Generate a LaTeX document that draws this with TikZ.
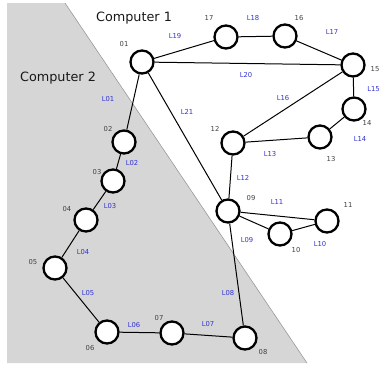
\documentclass[tikz,border=0pt]{standalone}
\usepackage{fontspec}
\setmainfont{DejaVu Sans}
\begin{document}
\begin{tikzpicture}[x=1pt,y=-1pt,
  vtx/.style={circle,draw=black,line width=2.3pt,fill=white,minimum size=23pt,inner sep=0pt},
  link/.style={draw=black,line width=1pt},
  nlab/.style={font=\fontsize{6.8}{7}\selectfont,text=black!75},
  elab/.style={font=\fontsize{6.8}{7}\selectfont,text={rgb,255:red,50;green,50;blue,210}},
  title/.style={font=\fontsize{12.8}{14}\selectfont,text=black!90}]
\useasboundingbox (0,0) rectangle (382,365);
% shaded region of the second computer
\fill[black!16] (7,3) -- (65,3) -- (307,363) -- (7,363) -- cycle;
\draw[black!40,line width=0.6pt] (65,3) -- (307,363);

\node[title] (c1) at (134,18) {Computer 1};
\node[title] (c2) at (58,78) {Computer 2};

% vertices
\node[vtx] (n01) at (142,62) {};
\node[vtx] (n02) at (124,142) {};
\node[vtx] (n03) at (113,181) {};
\node[vtx] (n04) at (86,220) {};
\node[vtx] (n05) at (55,268) {};
\node[vtx] (n06) at (107,332) {};
\node[vtx] (n07) at (172,333) {};
\node[vtx] (n08) at (245,338) {};
\node[vtx] (n09) at (228,211) {};
\node[vtx] (n10) at (280,234) {};
\node[vtx] (n11) at (327,221) {};
\node[vtx] (n12) at (233,143) {};
\node[vtx] (n13) at (320,137) {};
\node[vtx] (n14) at (354,109) {};
\node[vtx] (n15) at (353,65) {};
\node[vtx] (n16) at (285,36) {};
\node[vtx] (n17) at (226,37) {};

% links
\draw[link] (n01) -- (n02);
\draw[link] (n02) -- (n03);
\draw[link] (n03) -- (n04);
\draw[link] (n04) -- (n05);
\draw[link] (n05) -- (n06);
\draw[link] (n06) -- (n07);
\draw[link] (n07) -- (n08);
\draw[link] (n08) -- (n09);
\draw[link] (n09) -- (n10);
\draw[link] (n10) -- (n11);
\draw[link] (n09) -- (n11);
\draw[link] (n12) -- (n09);
\draw[link] (n12) -- (n13);
\draw[link] (n13) -- (n14);
\draw[link] (n14) -- (n15);
\draw[link] (n12) -- (n15);
\draw[link] (n16) -- (n15);
\draw[link] (n17) -- (n16);
\draw[link] (n01) -- (n17);
\draw[link] (n01) -- (n15);
\draw[link] (n01) -- (n09);

% vertex labels
\node[nlab] (t01) at (124,44) {01};
\node[nlab] (t02) at (108,129) {02};
\node[nlab] (t03) at (97,172) {03};
\node[nlab] (t04) at (67,209) {04};
\node[nlab] (t05) at (33,262) {05};
\node[nlab] (t06) at (90,348) {06};
\node[nlab] (t07) at (159,318) {07};
\node[nlab] (t08) at (263,352) {08};
\node[nlab] (t09) at (251,198) {09};
\node[nlab] (t10) at (296,250) {10};
\node[nlab] (t11) at (348,205) {11};
\node[nlab] (t12) at (215,129) {12};
\node[nlab] (t13) at (331,159) {13};
\node[nlab] (t14) at (367,123) {14};
\node[nlab] (t15) at (375,69) {15};
\node[nlab] (t16) at (299,18) {16};
\node[nlab] (t17) at (209,18) {17};

% link labels
\node[elab] (l01) at (108,99) {L01};
\node[elab] (l02) at (132,163) {L02};
\node[elab] (l03) at (110,206) {L03};
\node[elab] (l04) at (83,252) {L04};
\node[elab] (l05) at (88,293) {L05};
\node[elab] (l06) at (134,325) {L06};
\node[elab] (l07) at (208,324) {L07};
\node[elab] (l08) at (228,293) {L08};
\node[elab] (l09) at (247,240) {L09};
\node[elab] (l10) at (320,244) {L10};
\node[elab] (l11) at (277,202) {L11};
\node[elab] (l12) at (243,178) {L12};
\node[elab] (l13) at (270,154) {L13};
\node[elab] (l14) at (360,139) {L14};
\node[elab,anchor=east,inner sep=1pt] (l15) at (381,89) {L15};
\node[elab] (l16) at (283,98) {L16};
\node[elab] (l17) at (332,32) {L17};
\node[elab] (l18) at (253,18) {L18};
\node[elab] (l19) at (175,36) {L19};
\node[elab] (l20) at (246,75) {L20};
\node[elab] (l21) at (187,112) {L21};
\end{tikzpicture}
\end{document}
